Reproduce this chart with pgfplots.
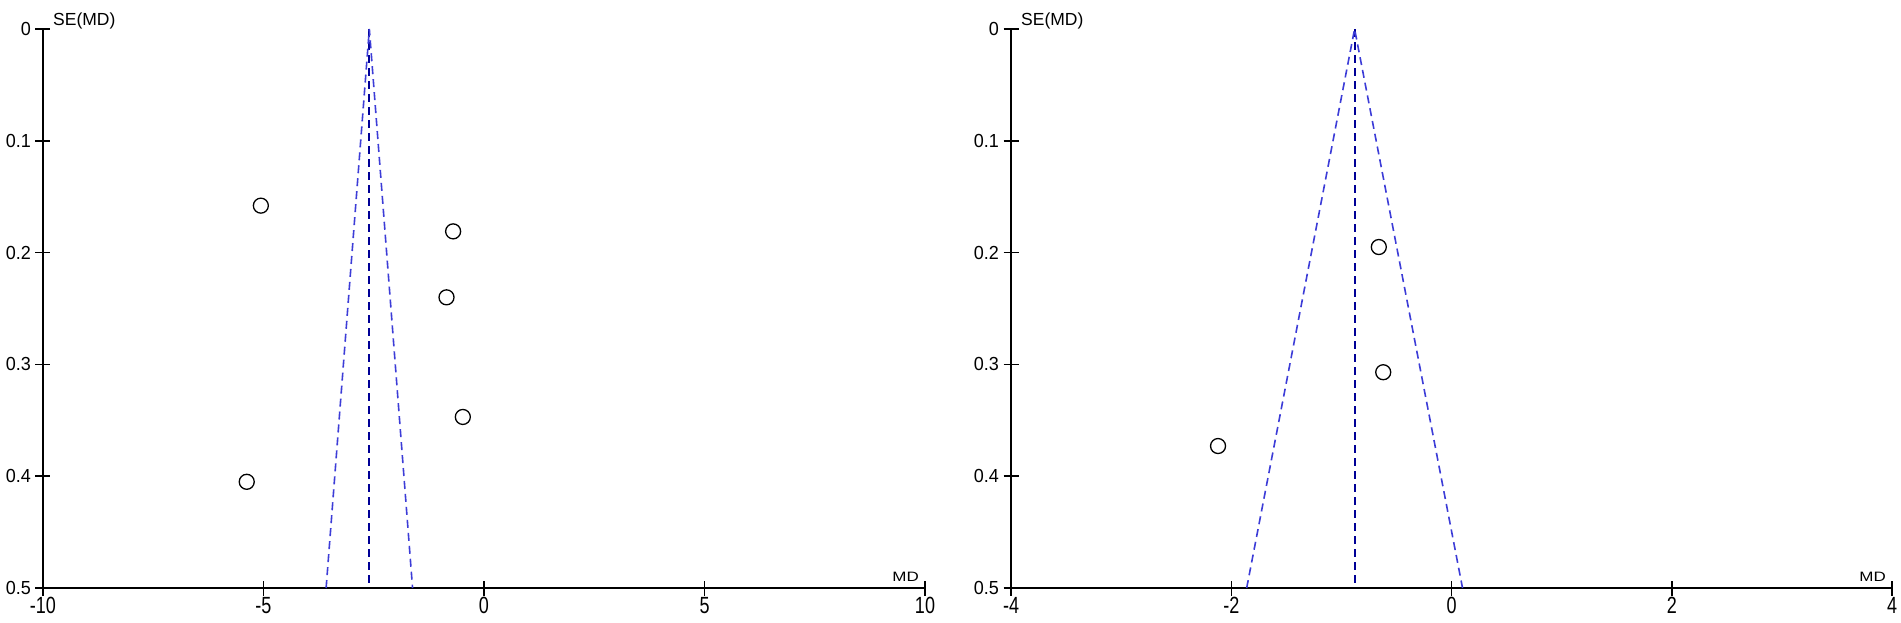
\documentclass[border=0pt]{standalone}
\usepackage{fontspec}
\setmainfont{Liberation Sans}
\usepackage{pgfplots}
\pgfplotsset{compat=1.18}

\definecolor{funnelblue}{RGB}{60,60,215}
\definecolor{centerblue}{RGB}{0,0,150}

\pgfplotsset{
  fp/.style={
    scale only axis, height=559pt,
    y dir=reverse, ymin=0, ymax=0.5,
    axis x line=bottom, axis y line=left,
    axis line style={-, line width=1.5pt, black},
    tick align=center, major tick length=15pt,
    tick style={line width=1.5pt, black},
    ytick={0,0.1,0.2,0.3,0.4,0.5},
    yticklabels={0,0.1,0.2,0.3,0.4,0.5},
    yticklabel style={font=\fontsize{18}{18}\selectfont, yscale=1.05, xshift=-1pt},
    xticklabel style={font=\fontsize{18}{18}\selectfont, yscale=1.3, inner sep=1pt, anchor=north},
    clip=false,
  },
  mk/.style={only marks, mark=o, mark size=7.5pt, mark options={line width=1.3pt, black}},
  cline/.style={centerblue, line width=1.8pt, dash pattern=on 8pt off 5pt},
  fline/.style={funnelblue, line width=1.6pt, dash pattern=on 8pt off 5pt},
}

\begin{document}
\begin{tikzpicture}
\useasboundingbox (0,0) rectangle (1901pt,622pt);

\begin{axis}[fp, width=882pt, at={(43pt,34pt)}, anchor=south west,
  xmin=-10, xmax=10,
  xtick={-10,-5,0,5,10}, xticklabels={-10,-5,0,5,10}]
  \addplot[cline] coordinates {(-2.6,0) (-2.6,0.5)};
  \addplot[fline] coordinates {(-3.58,0.5) (-2.6,0) (-1.62,0.5)};
  \addplot[mk] coordinates {
    (-5.06,0.158) (-0.70,0.181) (-0.85,0.240) (-0.48,0.347) (-5.38,0.405)
  };
  \node[anchor=base west, font=\fontsize{17.5}{17.5}\selectfont, inner sep=0pt]
    at (axis description cs:0,1) [xshift=10pt, yshift=4pt] {SE(MD)};
  \node[anchor=base east, font=\fontsize{17}{17}\selectfont, inner sep=0pt, yscale=0.8]
    at (axis description cs:1,0) [xshift=-6pt, yshift=8pt] {MD};
\end{axis}

\begin{axis}[fp, width=881pt, at={(1011pt,34pt)}, anchor=south west,
  xmin=-4, xmax=4,
  xtick={-4,-2,0,2,4}, xticklabels={-4,-2,0,2,4}]
  \addplot[cline] coordinates {(-0.88,0) (-0.88,0.5)};
  \addplot[fline] coordinates {(-1.86,0.5) (-0.88,0) (0.10,0.5)};
  \addplot[mk] coordinates {
    (-0.66,0.195) (-0.62,0.307) (-2.12,0.373)
  };
  \node[anchor=base west, font=\fontsize{17.5}{17.5}\selectfont, inner sep=0pt]
    at (axis description cs:0,1) [xshift=10pt, yshift=4pt] {SE(MD)};
  \node[anchor=base east, font=\fontsize{17}{17}\selectfont, inner sep=0pt, yscale=0.8]
    at (axis description cs:1,0) [xshift=-6pt, yshift=8pt] {MD};
\end{axis}
\end{tikzpicture}
\end{document}
